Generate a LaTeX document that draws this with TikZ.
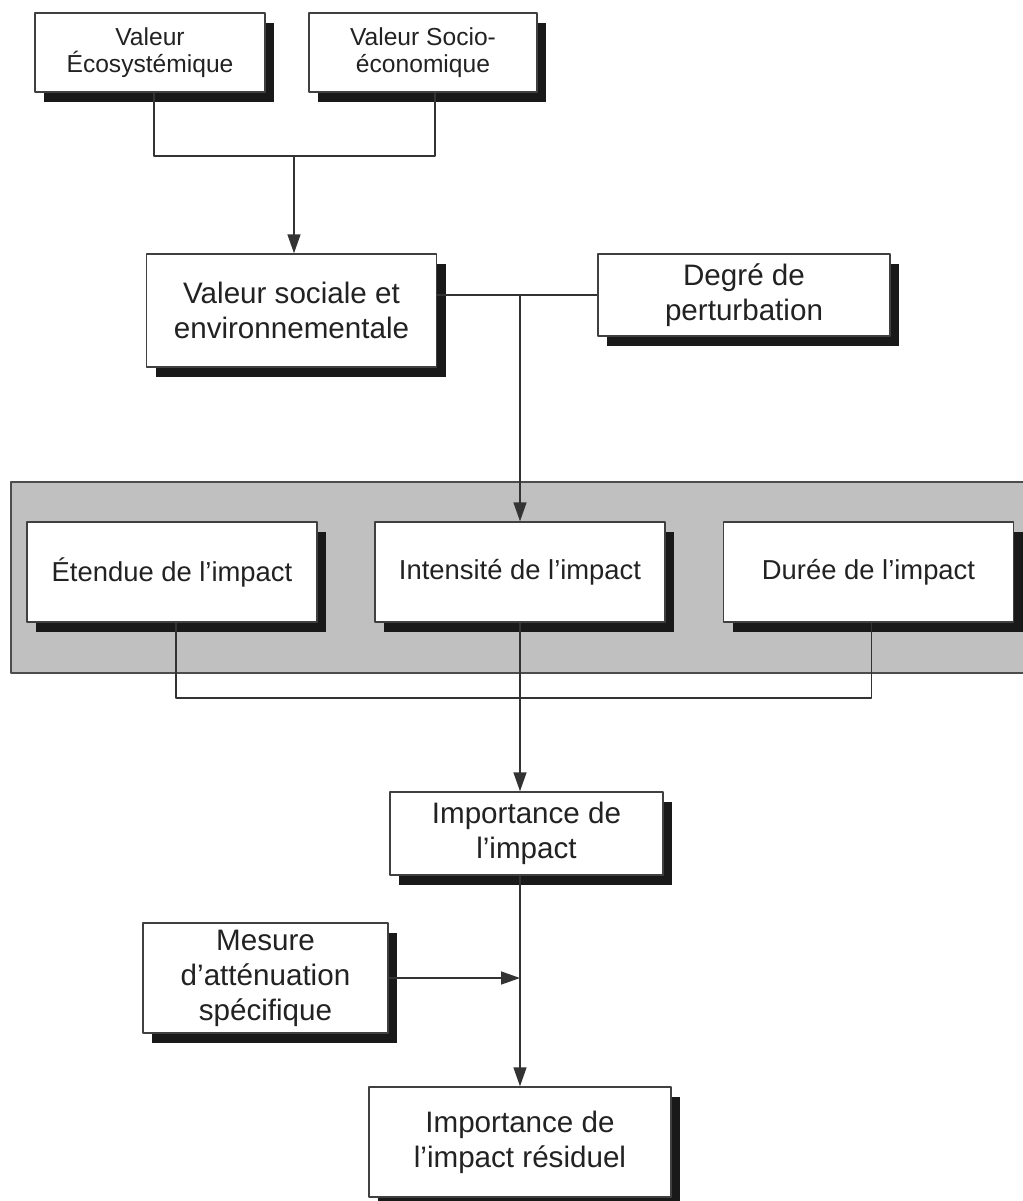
\documentclass[tikz,border=0pt]{standalone}
\usepackage{fontspec}
\setmainfont{Liberation Sans}
\usetikzlibrary{arrows.meta,shadows,calc}
\definecolor{bandgray}{RGB}{192,192,192}
\definecolor{ink}{RGB}{34,34,34}
\tikzset{
	boite/.style={draw=black!75,line width=0.7pt,fill=white,align=center,text=ink,inner sep=0pt,
		drop shadow={shadow xshift=4.5pt,shadow yshift=-5pt,fill=black!90,opacity=1}},
	petit/.style={font=\fontsize{12.3}{13.6}\selectfont},
	grand/.style={font=\fontsize{14.8}{17.5}\selectfont},
	moyen/.style={font=\fontsize{13.7}{16}\selectfont},
	lien/.style={draw=black!80,line width=0.75pt},
	fleche/.style={lien,-{Triangle[length=9.5pt,width=6.5pt]}}
}
\begin{document}
\begin{tikzpicture}[x=0.5pt,y=-0.5pt,line join=round]
	\useasboundingbox (0,0) rectangle (1023,1201);
	%%%Bande grise
	\draw[draw=black!70,line width=0.7pt,fill=bandgray] (11,482) rectangle (1040,673);
	%%%Boites
	\node[boite,petit,minimum width=115pt,minimum height=39.5pt] (vEco) at (150,52.5) {Valeur\\Écosystémique};
	\node[boite,petit,minimum width=114pt,minimum height=39.5pt] (vSocio) at (423,52.5) {Valeur Socio-\\économique};
	\node[boite,grand,minimum width=145pt,minimum height=56.5pt] (vSociale) at (291.5,310.5) {Valeur sociale et\\environnementale};
	\node[boite,grand,minimum width=146pt,minimum height=41pt] (degre) at (744,295) {Degré de\\perturbation};
	\foreach \n/\x/\t in {etendue/172/Étendue de l’impact,intensite/520/Intensité de l’impact,duree/868.5/Durée de l’impact}
	\node[boite,moyen,minimum width=145pt,minimum height=50pt] (\n) at (\x,572) {\t};
	\node[boite,grand,minimum width=136.5pt,minimum height=41.5pt] (importance) at (526.5,833.5) {Importance de\\l’impact};
	\node[boite,grand,minimum width=122.5pt,minimum height=55pt] (mesure) at (265.5,978) {Mesure\\d’atténuation\\spécifique};
	\node[boite,grand,minimum width=151pt,minimum height=55pt] (residuel) at (520,1142) {Importance de\\l’impact résiduel};
	%%%Liens
	\coordinate (jHaut) at (294,156);
	\coordinate (jBas) at (520,698);
	\draw[lien] ($(vEco.south)+(4,0)$) |- (jHaut) -| ($(vSocio.south)+(12,0)$);
	\draw[fleche] (jHaut) -- (jHaut |- vSociale.north);
	\draw[lien] (vSociale.east |- degre.west) -- (degre.west);
	\draw[fleche] (intensite.north |- degre.west) -- (intensite.north);
	\draw[lien] ($(etendue.south)+(4,0)$) |- (jBas) -| ($(duree.south)+(3,0)$);
	\draw[fleche] (intensite.south) -- (intensite.south |- importance.north);
	\draw[fleche] (intensite.south |- importance.south) -- (residuel.north);
	\draw[fleche] (mesure.east) -- (mesure.east -| residuel.north);
\end{tikzpicture}
\end{document}
